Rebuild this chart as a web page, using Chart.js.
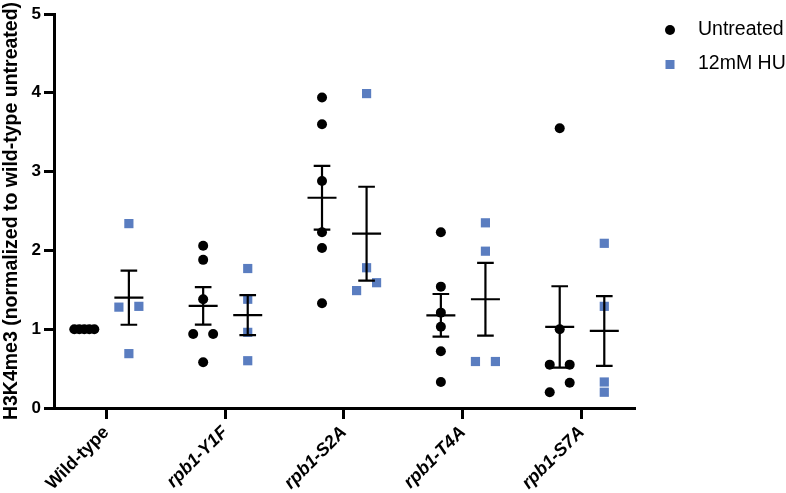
<!DOCTYPE html>
<html>
<head>
<meta charset="utf-8">
<script src="https://cdn.jsdelivr.net/npm/chart.js@4"></script>
<style>
  html,body{margin:0;padding:0;background:#fff;}
  #wrap{width:786px;height:493px;}
</style>
</head>
<body>
<div id="wrap"><canvas id="c" width="786" height="493"></canvas></div>
<script>
// ---- data ----
const categories = ['Wild-type', 'rpb1-Y1F', 'rpb1-S2A', 'rpb1-T4A', 'rpb1-S7A'];
const seriesNames = ['Untreated', '12mM HU'];
const untreated = [
  [1.00, 1.00, 1.00, 1.00, 1.00],
  [2.06, 1.88, 1.38, 0.94, 0.94, 0.58],
  [3.94, 3.60, 2.88, 2.23, 2.03, 1.33],
  [2.23, 1.54, 1.21, 1.03, 0.72, 0.33],
  [3.55, 1.00, 0.55, 0.55, 0.32, 0.20]
];
const hu = [
  [2.34, 1.29, 1.28, 0.69],
  [1.77, 1.38, 0.96, 0.60],
  [3.99, 1.78, 1.59, 1.49],
  [2.35, 1.99, 0.59, 0.59],
  [2.09, 1.29, 0.33, 0.20]
];
const yTicks = [0, 1, 2, 3, 4, 5];

// ---- helpers ----
const BLUE = 'rgb(90,125,192)';
const FONT = '"Liberation Sans", Arial, Helvetica, sans-serif';
const groupOffset = [-0.185, 0.19];
const spreadHalf = 0.084;   // half-width of a jittered row (x units)
const rowThresh = 0.125;     // values closer than this share a row

function swarm(values, catIndex, side) {
  const idx = values.map((v, i) => i).sort((a, b) => values[a] - values[b]);
  const pts = [];
  let cluster = [];
  const flush = () => {
    const n = cluster.length;
    cluster.forEach((i, k) => {
      const dx = n > 1 ? -spreadHalf + 2 * spreadHalf * k / (n - 1) : 0;
      pts.push({ x: catIndex + groupOffset[side] + dx, y: values[i] });
    });
    cluster = [];
  };
  idx.forEach(i => {
    if (cluster.length && values[i] - values[cluster[cluster.length - 1]] >= rowThresh) flush();
    cluster.push(i);
  });
  flush();
  return pts;
}
function mean(a) { return a.reduce((s, v) => s + v, 0) / a.length; }
function sem(a) {
  const m = mean(a);
  const sd = Math.sqrt(a.reduce((s, v) => s + (v - m) * (v - m), 0) / (a.length - 1));
  return sd / Math.sqrt(a.length);
}
function errorBars(groups, side) {
  const out = [];
  groups.forEach((vals, ci) => {
    const c = ci + groupOffset[side];
    const m = mean(vals), e = sem(vals);
    const mw = 0.122, cw = 0.07;
    out.push({ x: c - mw, y: m }, { x: c + mw, y: m }, { x: c, y: null });
    out.push({ x: c, y: m - e }, { x: c, y: m + e }, { x: c, y: null });
    out.push({ x: c - cw, y: m + e }, { x: c + cw, y: m + e }, { x: c, y: null });
    out.push({ x: c - cw, y: m - e }, { x: c + cw, y: m - e }, { x: c, y: null });
  });
  return out;
}

const untreatedPts = untreated.flatMap((g, i) => swarm(g, i, 0));
const huPts = hu.flatMap((g, i) => swarm(g, i, 1));

const legendPlugin = {
  id: 'customLegend',
  afterDraw(chart) {
    const ctx = chart.ctx;
    ctx.save();
    ctx.fillStyle = '#000';
    ctx.beginPath();
    ctx.arc(670, 30, 5, 0, Math.PI * 2);
    ctx.fill();
    ctx.fillStyle = BLUE;
    ctx.fillRect(665.5, 60, 9, 9);
    ctx.fillStyle = '#000';
    ctx.font = '19.5px ' + FONT;
    ctx.textBaseline = 'middle';
    ctx.textAlign = 'left';
    ctx.fillText(seriesNames[0], 698, 30);
    ctx.fillText(seriesNames[1], 698, 64);
    ctx.restore();
  }
};

new Chart(document.getElementById('c'), {
  type: 'scatter',
  data: {
    datasets: [
      {
        label: seriesNames[0], data: untreatedPts,
        pointStyle: 'circle', pointRadius: 5, pointHoverRadius: 5,
        backgroundColor: '#000', borderColor: '#000', borderWidth: 0, order: 3
      },
      {
        label: seriesNames[1], data: huPts,
        pointStyle: 'rect', pointRadius: 6.5, pointHoverRadius: 6.5,
        backgroundColor: BLUE, borderColor: BLUE, borderWidth: 0, order: 2
      },
      {
        type: 'line', label: 'Untreated mean ± SEM', data: errorBars(untreated, 0),
        showLine: true, spanGaps: false, pointRadius: 0, borderColor: '#000',
        borderWidth: 2.2, fill: false, order: 1
      },
      {
        type: 'line', label: 'HU mean ± SEM', data: errorBars(hu, 1),
        showLine: true, spanGaps: false, pointRadius: 0, borderColor: '#000',
        borderWidth: 2.2, fill: false, order: 1
      }
    ]
  },
  options: {
    responsive: false,
    animation: false,
    layout: { padding: { top: 14, right: 152, left: 0, bottom: 0 } },
    plugins: { legend: { display: false }, tooltip: { enabled: false } },
    scales: {
      x: {
        type: 'linear', min: -0.44, max: 4.44,
        afterBuildTicks(scale) { scale.ticks = categories.map((c, i) => ({ value: i })); },
        afterFit(scale) { scale.height = 85; },
        ticks: {
          autoSkip: false, minRotation: 45, maxRotation: 45, padding: 3, color: '#000',
          callback: (v) => categories[v],
          font: (ctx) => ({ family: FONT, size: 18, weight: 'bold', style: ctx.index === 0 ? 'normal' : 'italic' })
        },
        grid: { drawOnChartArea: false, drawTicks: true, tickLength: 11, color: '#000', lineWidth: 3 },
        border: { color: '#000', width: 3 }
      },
      y: {
        min: 0, max: 5,
        afterBuildTicks(scale) { scale.ticks = yTicks.map(v => ({ value: v })); },
        afterFit(scale) { scale.width = 54; },
        ticks: { color: '#000', padding: 3, font: { family: FONT, size: 17, weight: 'bold' } },
        grid: { drawOnChartArea: false, drawTicks: true, tickLength: 10, color: '#000', lineWidth: 3 },
        border: { color: '#000', width: 3 },
        title: {
          display: true, text: 'H3K4me3 (normalized to wild-type untreated)', color: '#000',
          font: { family: FONT, size: 19.5, weight: 'bold' }, padding: { top: 0, bottom: 0 }
        }
      }
    }
  },
  plugins: [legendPlugin]
});
</script>
</body>
</html>
